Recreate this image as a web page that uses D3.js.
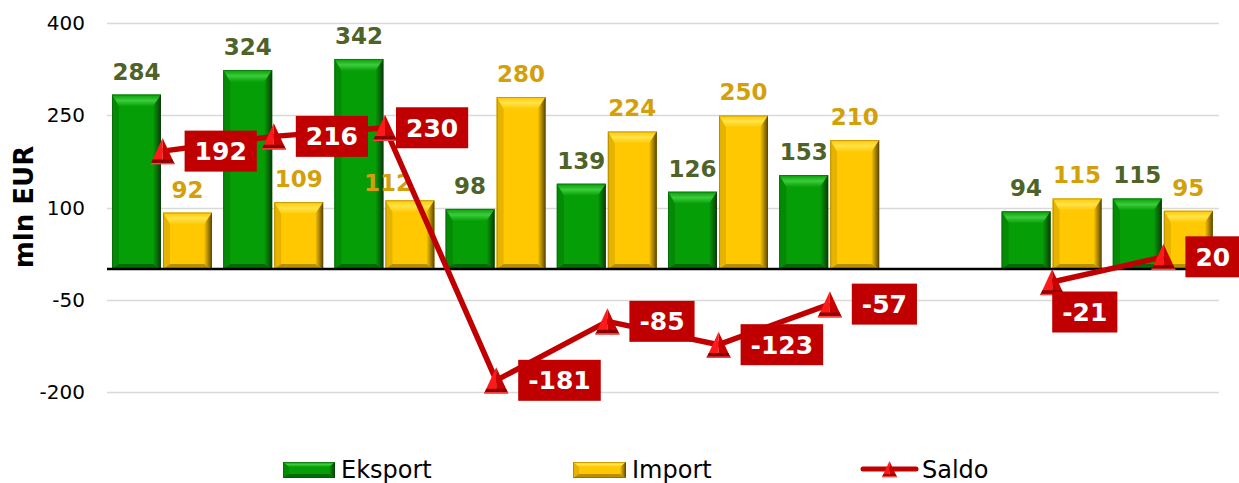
<!DOCTYPE html>
<html>
<head>
<meta charset="utf-8">
<script src="https://cdn.jsdelivr.net/npm/d3@7"></script>
<style>
  body { margin: 0; background: #fff; }
  svg { display: block; font-family: "DejaVu Sans", Verdana, sans-serif; }
</style>
</head>
<body>
<svg id="chart" width="1239" height="483"></svg>
<script>
// data (slot 8 is empty)
var categories = ["1", "2", "3", "4", "5", "6", "7", "8", "9", "10"];
var eksport = [284, 324, 342, 98, 139, 126, 153, null, 94, 115];
var importVals = [92, 109, 112, 280, 224, 250, 210, null, 115, 95];
var saldo = [192, 216, 230, -181, -85, -123, -57, null, -21, 20];
var yTicks = [-200, -50, 100, 250, 400];
var seriesNames = ["Eksport", "Import", "Saldo"];

var plotLeft = 107, plotRight = 1219, plotTop = 23.3, plotBottom = 392;

var svg = d3.select("#chart");
var defs = svg.append("defs");

var x = d3.scaleBand().domain(categories).range([plotLeft, plotRight]);
var x1 = d3.scaleBand().domain(["e", "i"]).range([5, 105]).paddingInner(0.04);
var y = d3.scaleLinear().domain([-200, 400]).range([plotBottom, plotTop]);

// bar colours: face, top bevel, left, right, bottom
var pal = {
  e: { face: "#069e06", top: "#3ccc3c", left: "#058a05", right: "#0b3b0b", bottom: "#046a04", label: "#4f6228" },
  i: { face: "#ffc800", top: "#ffe34a", left: "#e6b400", right: "#5c4600", bottom: "#b88e00", label: "#d4a00a" }
};

Object.keys(pal).forEach(function(k) {
  var g = defs.append("linearGradient").attr("id", "rg" + k).attr("x1", 0).attr("x2", 1).attr("y1", 0).attr("y2", 0);
  g.append("stop").attr("offset", 0).attr("stop-color", pal[k].face);
  g.append("stop").attr("offset", 1).attr("stop-color", pal[k].right);
  var t = defs.append("linearGradient").attr("id", "tg" + k).attr("x1", 0).attr("x2", 0).attr("y1", 0).attr("y2", 1);
  t.append("stop").attr("offset", 0).attr("stop-color", pal[k].face);
  t.append("stop").attr("offset", 0.5).attr("stop-color", pal[k].top);
  t.append("stop").attr("offset", 1).attr("stop-color", pal[k].face);
});

function bevelBar(g, k, bx, by, bw, bh, tb, bb, lw, rw) {
  var c = pal[k];
  tb = Math.min(tb, bh / 3); bb = Math.min(bb, bh / 4);
  g.append("rect").attr("x", bx).attr("y", by).attr("width", bw).attr("height", bh).attr("fill", c.face);
  g.append("path").attr("fill", "url(#tg" + k + ")")
    .attr("d", "M" + bx + "," + by + "L" + (bx + bw) + "," + by + "L" + (bx + bw - rw) + "," + (by + tb) + "L" + (bx + lw) + "," + (by + tb) + "Z");
  g.append("path").attr("fill", c.left)
    .attr("d", "M" + bx + "," + by + "L" + (bx + lw) + "," + (by + tb) + "L" + (bx + lw) + "," + (by + bh - bb) + "L" + bx + "," + (by + bh) + "Z");
  g.append("path").attr("fill", "url(#rg" + k + ")")
    .attr("d", "M" + (bx + bw) + "," + by + "L" + (bx + bw) + "," + (by + bh) + "L" + (bx + bw - rw) + "," + (by + bh - bb) + "L" + (bx + bw - rw) + "," + (by + tb) + "Z");
  g.append("path").attr("fill", c.bottom)
    .attr("d", "M" + bx + "," + (by + bh) + "L" + (bx + bw) + "," + (by + bh) + "L" + (bx + bw - rw) + "," + (by + bh - bb) + "L" + (bx + lw) + "," + (by + bh - bb) + "Z");
  g.append("rect").attr("x", bx + 0.5).attr("y", by + 0.5).attr("width", bw - 1).attr("height", bh - 1)
    .attr("fill", "none").attr("stroke", c.right).attr("stroke-opacity", 0.35).attr("stroke-width", 1);
}

function marker(g, cx, cy, s) {
  var w = 12 * s, h = 13 * s;
  g.append("path").attr("fill", "#ff1a1a")
    .attr("d", "M" + cx + "," + (cy - h) + "L" + (cx - w) + "," + (cy + h) + "L" + cx + "," + (cy + h) + "Z");
  g.append("path").attr("fill", "#c80000")
    .attr("d", "M" + cx + "," + (cy - h) + "L" + (cx + w) + "," + (cy + h) + "L" + cx + "," + (cy + h) + "Z");
  g.append("path").attr("fill", "#8a0000")
    .attr("d", "M" + (cx - w * 0.82) + "," + (cy + h * 0.64) + "L" + (cx + w * 0.82) + "," + (cy + h * 0.64) + "L" + (cx + w) + "," + (cy + h) + "L" + (cx - w) + "," + (cy + h) + "Z");
  g.append("line").attr("x1", cx - w).attr("x2", cx + w).attr("y1", cy + h - 0.5).attr("y2", cy + h - 0.5)
    .attr("stroke", "#ff4040").attr("stroke-width", 1.5);
}

// gridlines + y labels
svg.append("g").selectAll("line").data(yTicks).enter().append("line")
  .attr("x1", plotLeft).attr("x2", plotRight)
  .attr("y1", function(d) { return Math.round(y(d)) + 0.5; })
  .attr("y2", function(d) { return Math.round(y(d)) + 0.5; })
  .attr("stroke", "#d9d9d9").attr("stroke-width", 1.3);

var yAxis = svg.append("g").attr("transform", "translate(" + plotLeft + ",0)")
  .call(d3.axisLeft(y).tickValues(yTicks).tickSize(0).tickPadding(22).tickFormat(function(d) { return String(d); }));
yAxis.select(".domain").remove();
yAxis.selectAll("text").attr("font-size", 20).attr("fill", "#000").attr("font-family", "DejaVu Sans, Verdana, sans-serif");

svg.append("text").attr("transform", "translate(33,207) rotate(-90)")
  .attr("text-anchor", "middle").attr("font-size", 26).attr("font-weight", "bold").text("mln EUR");

// bars
var bars = svg.append("g");
var barData = [];
categories.forEach(function(c, i) {
  if (eksport[i] != null) barData.push({ k: "e", c: c, v: eksport[i], i: i });
  if (importVals[i] != null) barData.push({ k: "i", c: c, v: importVals[i], i: i });
});
barData.forEach(function(d) {
  var bx = x(d.c) + x1(d.k), bw = x1.bandwidth();
  bevelBar(bars.append("g"), d.k, bx, y(d.v), bw, y(0) - y(d.v), 12, 5, 7, 8);
});

// zero line
svg.append("line").attr("x1", plotLeft).attr("x2", plotRight).attr("y1", y(0)).attr("y2", y(0))
  .attr("stroke", "#000").attr("stroke-width", 2.5);

// bar value labels (small nudges where the original moved them)
var labelShift = { "i2": [-22, 6] };
svg.append("g").selectAll("text").data(barData).enter().append("text")
  .attr("x", function(d) { var s = labelShift[d.k + d.i]; return x(d.c) + x1(d.k) + x1.bandwidth() / 2 + (s ? s[0] : 0); })
  .attr("y", function(d) { var s = labelShift[d.k + d.i]; return y(d.v) - 15 + (s ? s[1] : 0); })
  .attr("text-anchor", "middle").attr("font-size", 23).attr("font-weight", "bold")
  .attr("fill", function(d) { return pal[d.k].label; })
  .text(function(d) { return d.v; });

// saldo line
var pts = categories.map(function(c, i) { return { c: c, v: saldo[i], i: i }; });
var line = d3.line().defined(function(d) { return d.v != null; })
  .x(function(d) { return x(d.c) + x.bandwidth() / 2; })
  .y(function(d) { return y(d.v); });
svg.append("path").datum(pts).attr("d", line).attr("fill", "none")
  .attr("stroke", "#c00000").attr("stroke-width", 5.5).attr("stroke-linejoin", "round");

var mk = svg.append("g");
pts.filter(function(d) { return d.v != null; }).forEach(function(d) {
  marker(mk, x(d.c) + x.bandwidth() / 2, y(d.v), 1);
});

// saldo labels in red boxes
var boxShift = { 2: [-11, 0], 8: [-22, 30] };
var lab = svg.append("g");
pts.filter(function(d) { return d.v != null; }).forEach(function(d) {
  var s = boxShift[d.i] || [0, 0];
  var px = x(d.c) + x.bandwidth() / 2, py = y(d.v);
  var g = lab.append("g");
  var t = g.append("text").attr("font-size", 25).attr("font-weight", "bold").attr("fill", "#fff").text(d.v);
  var tw = t.node().getComputedTextLength();
  var bw = tw + 20, bh = 41;
  var bx = px + 22 + s[0], by = py - bh / 2 + s[1];
  g.insert("rect", "text").attr("x", bx).attr("y", by).attr("width", bw).attr("height", bh).attr("fill", "#c00000");
  t.attr("x", bx + bw / 2).attr("y", by + bh / 2 + 9).attr("text-anchor", "middle");
});

// legend
var leg = svg.append("g");
bevelBar(leg.append("g"), "e", 283, 462, 52, 16, 5, 4, 6, 6);
leg.append("text").attr("x", 341).attr("y", 478).attr("font-size", 24).text(seriesNames[0]);
bevelBar(leg.append("g"), "i", 573, 462, 53, 16, 5, 4, 6, 6);
leg.append("text").attr("x", 632).attr("y", 478).attr("font-size", 24).text(seriesNames[1]);
leg.append("line").attr("x1", 863).attr("x2", 916).attr("y1", 469).attr("y2", 469)
  .attr("stroke", "#c00000").attr("stroke-width", 5).attr("stroke-linecap", "round");
marker(leg, 889.5, 469, 0.62);
leg.append("text").attr("x", 922).attr("y", 478).attr("font-size", 24).text(seriesNames[2]);
</script>
</body>
</html>
